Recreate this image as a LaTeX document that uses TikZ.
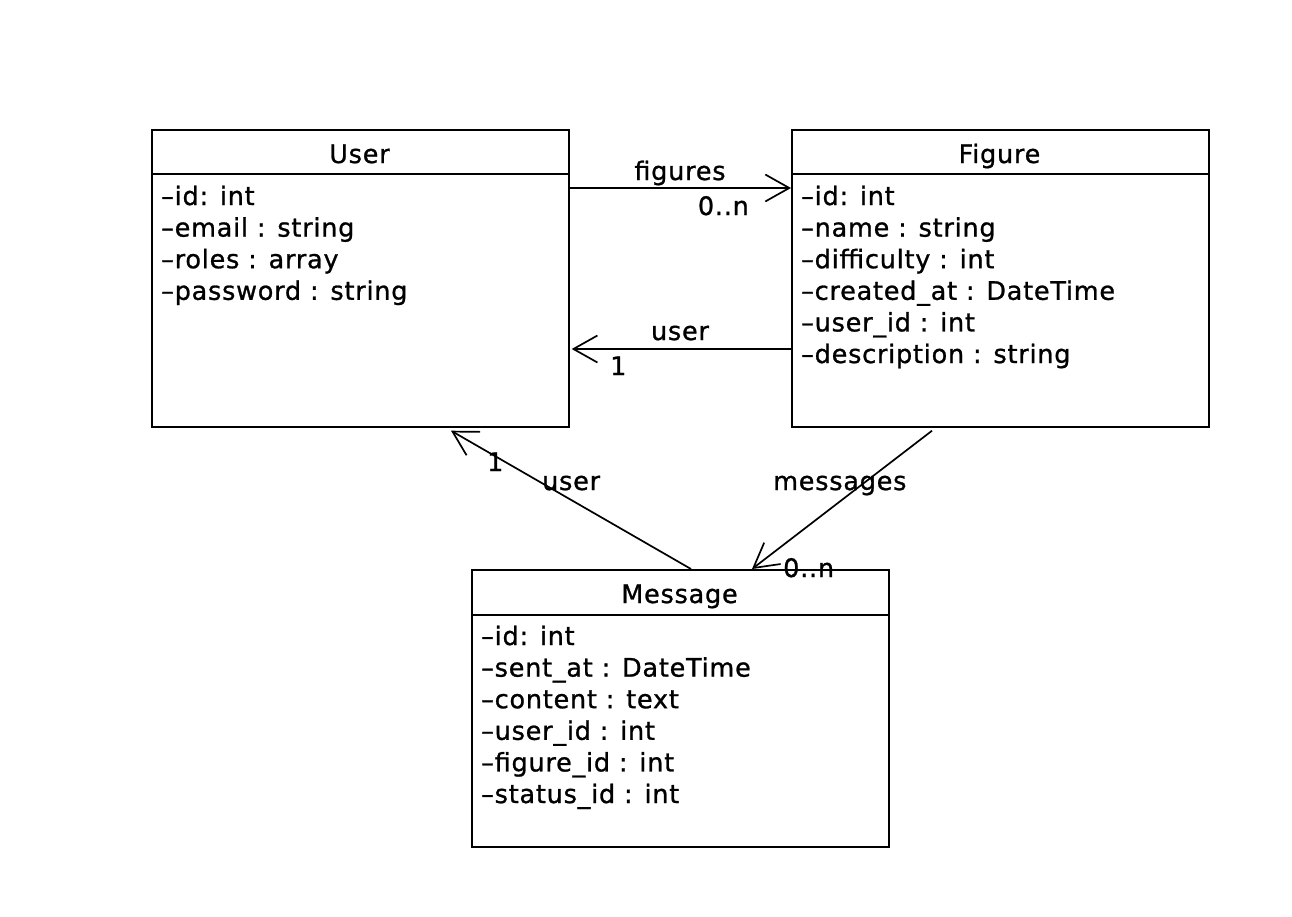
\documentclass[tikz,border=0pt]{standalone}
\usepackage{fontspec}
\setmainfont{DejaVu Sans}[LetterSpace=3,FakeBold=1]
\usetikzlibrary{arrows.meta}
\begin{document}
\begin{tikzpicture}[x=1pt,y=-1pt,
  classbox/.style={draw, line width=1.7pt, rectangle, minimum width=417pt,
    anchor=north west, inner sep=0pt},
  txt/.style={inner sep=0pt, font=\fontsize{25.5}{30}\selectfont},
  attr/.style={txt, anchor=base west},
  ctitle/.style={txt, anchor=base},
  assoc/.style={line width=1.7pt, -{Straight Barb[length=24pt,width=27pt]}}
]
\useasboundingbox (0,0) rectangle (1292,916);

% class boxes
\node[classbox, minimum height=297pt] (user) at (151,129) {};
\node[classbox, minimum height=297pt] (figure) at (791,129) {};
\node[classbox, minimum height=277pt] (message) at (471,569) {};

% header separators
\draw[line width=1.7pt] ([yshift=-45pt]user.north west) -- ([yshift=-45pt]user.north east);
\draw[line width=1.7pt] ([yshift=-45pt]figure.north west) -- ([yshift=-45pt]figure.north east);
\draw[line width=1.7pt] ([yshift=-46pt]message.north west) -- ([yshift=-46pt]message.north east);

% titles
\node[ctitle] (userT) at (359.5,163) {User};
\node[ctitle] (figureT) at (999.5,163) {Figure};
\node[ctitle] (messageT) at (679.5,603) {Message};

% User attributes
\node[attr] (u1) at (161,205) {–id: int};
\node[attr] (u2) at (161,236.6) {–email : string};
\node[attr] (u3) at (161,268.2) {–roles : array};
\node[attr] (u4) at (161,299.8) {–password : string};

% Figure attributes
\node[attr] (f1) at (801,205) {–id: int};
\node[attr] (f2) at (801,236.6) {–name : string};
\node[attr] (f3) at (801,268.2) {–difficulty : int};
\node[attr] (f4) at (801,299.8) {–created\_at : DateTime};
\node[attr] (f5) at (801,331.4) {–user\_id : int};
\node[attr] (f6) at (801,363) {–description : string};

% Message attributes
\node[attr] (m1) at (481,645) {–id: int};
\node[attr] (m2) at (481,676.6) {–sent\_at : DateTime};
\node[attr] (m3) at (481,708.2) {–content : text};
\node[attr] (m4) at (481,739.8) {–user\_id : int};
\node[attr] (m5) at (481,771.4) {–figure\_id : int};
\node[attr] (m6) at (481,803) {–status\_id : int};

% associations
\draw[assoc] ([yshift=-59pt]user.north east) -- ([yshift=-59pt]figure.north west);
\draw[assoc] ([yshift=-220pt]figure.north west) -- ([yshift=-220pt,xshift=2pt]user.north east);
\draw[assoc] ([xshift=220pt]message.north west) -- ([xshift=300pt,yshift=-3pt]user.south west);
\draw[assoc] ([xshift=141pt,yshift=-3pt]figure.south west) -- ([xshift=281pt]message.north west);

% role names and multiplicities
\node[txt, anchor=base] (l1) at (680,180) {figures};
\node[txt, anchor=base east] (l2) at (749,215) {0..n};
\node[txt, anchor=base] (l3) at (680,340) {user};
\node[txt, anchor=base west] (l4) at (610,375) {1};
\node[txt, anchor=base west] (l5) at (487,471) {1};
\node[txt, anchor=base west] (l6) at (542,490) {user};
\node[txt, anchor=base west] (l7) at (773,490) {messages};
\node[txt, anchor=base west] (l8) at (783,577) {0..n};
\end{tikzpicture}
\end{document}
